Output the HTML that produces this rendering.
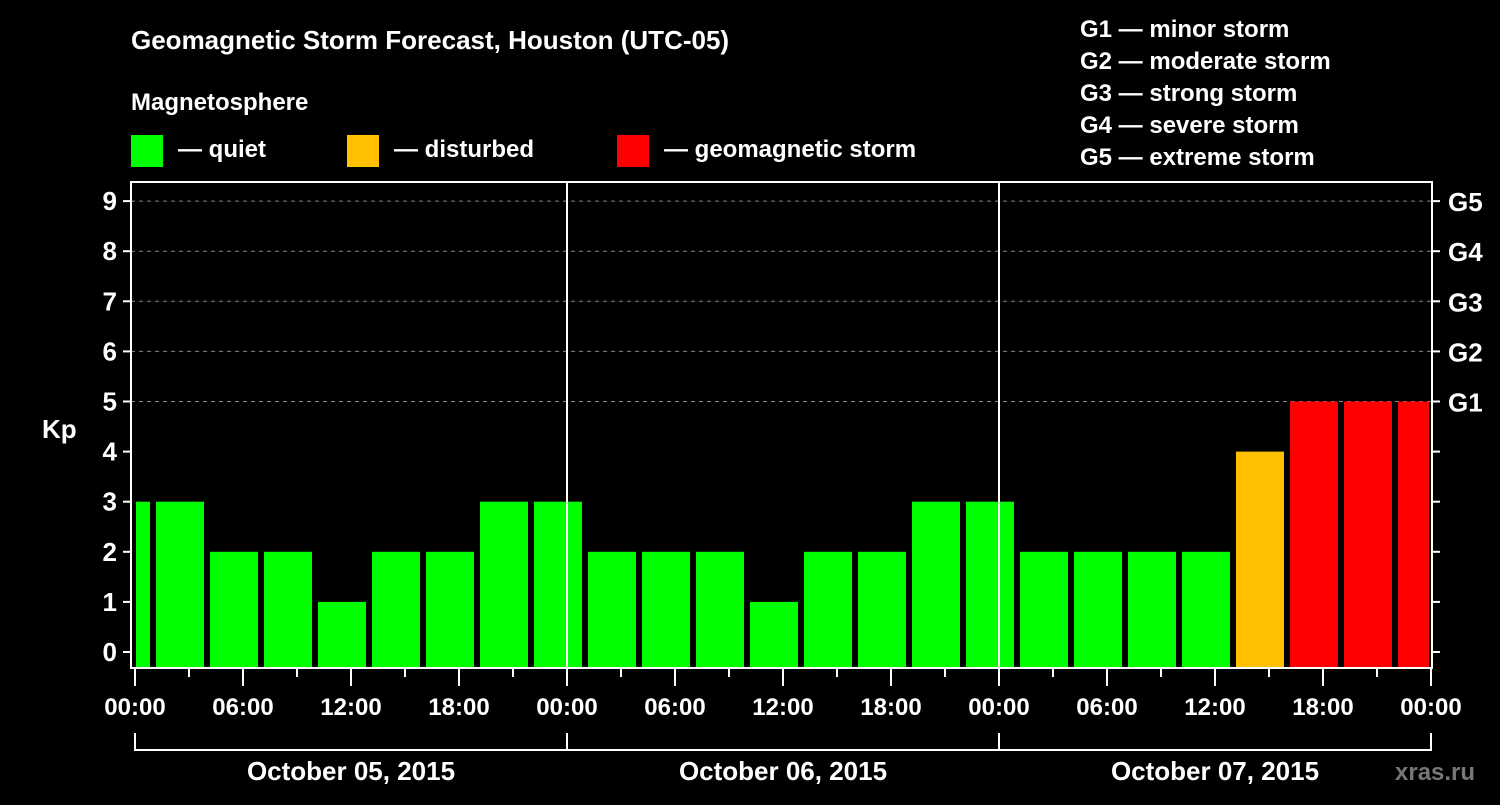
<!DOCTYPE html>
<html><head><meta charset="utf-8"><style>
body{margin:0;background:#000;width:1500px;height:800px;overflow:hidden}
svg text{font-family:"Liberation Sans",Arial,sans-serif;font-weight:bold;fill:#fff}
</style></head><body>
<svg id="chart" width="1500" height="800" viewBox="0 0 1500 800" xmlns="http://www.w3.org/2000/svg">
<rect width="1500" height="800" fill="#000"/>
<text x="131" y="49" font-size="26">Geomagnetic Storm Forecast, Houston (UTC-05)</text>
<text x="131" y="110" font-size="24">Magnetosphere</text>
<g>
<rect x="131" y="135" width="32" height="32" fill="#00ff00"/>
<text x="178" y="157" font-size="24">— quiet</text>
<rect x="347" y="135" width="32" height="32" fill="#ffc000"/>
<text x="394" y="157" font-size="24">— disturbed</text>
<rect x="617" y="135" width="32" height="32" fill="#ff0000"/>
<text x="664" y="157" font-size="24">— geomagnetic storm</text>
</g>
<g font-size="24">
<text x="1080" y="37">G1 — minor storm</text>
<text x="1080" y="69">G2 — moderate storm</text>
<text x="1080" y="101">G3 — strong storm</text>
<text x="1080" y="133">G4 — severe storm</text>
<text x="1080" y="165">G5 — extreme storm</text>
</g>
<text x="42" y="438" font-size="26">Kp</text>
<text x="1395" y="780" font-size="24" style="fill:#777">xras.ru</text>
<g id="grid"></g><g id="bars"></g><g id="axes"></g>
</svg>
<script>
const hoursStart = [-2,1,4,7,10,13,16,19,22,25,28,31,34,37,40,43,46,49,52,55,58,61,64,67,70];
const kpValues = [3,3,2,2,1,2,2,3,3,2,2,2,1,2,2,3,3,2,2,2,2,4,5,5,5];
const yTicks = [0,1,2,3,4,5,6,7,8,9];
const gLabels = ["G1","G2","G3","G4","G5"];
const xTickLabels = ["00:00","06:00","12:00","18:00","00:00","06:00","12:00","18:00","00:00","06:00","12:00","18:00","00:00"];
const dayLabels = ["October 05, 2015","October 06, 2015","October 07, 2015"];
const NS="http://www.w3.org/2000/svg";
const X0=135,PXH=18,Y0=652,PXK=50.1,LEFT=131,RIGHT=1432,TOP=182,BOT=668;
const xs=h=>X0+h*PXH, ys=v=>Y0-v*PXK;
function mk(tag,attrs,parent){const e=document.createElementNS(NS,tag);for(const k in attrs)e.setAttribute(k,attrs[k]);parent.appendChild(e);return e;}
const grid=document.getElementById('grid'),bars=document.getElementById('bars'),axes=document.getElementById('axes');
// gridlines
[5,6,7,8,9].forEach(v=>{const l=mk('line',{x1:LEFT,x2:RIGHT,y1:ys(v),y2:ys(v),stroke:'#888','stroke-dasharray':'4,4','stroke-width':1},grid);

});
// bars
hoursStart.forEach((h,i)=>{const v=kpValues[i];
let x1=Math.max(xs(h)+3,X0+1),x2=Math.min(xs(h+3)-3,RIGHT-3);
const col=v>=5?'#ff0000':(v>=4?'#ffc000':'#00ff00');
const r=mk('rect',{x:x1,y:ys(v),width:x2-x1,height:BOT-1-ys(v),fill:col},bars);

});
// day separators
[24,48].forEach(h=>{const l=mk('line',{x1:xs(h),x2:xs(h),y1:TOP,y2:BOT,stroke:'#fff','stroke-width':2},axes);

});
// frame
const fr=mk('rect',{x:LEFT,y:TOP,width:RIGHT-LEFT,height:BOT-TOP,fill:'none',stroke:'#fff','stroke-width':2},axes);


// y ticks
yTicks.forEach(v=>{const y=ys(v);
mk('line',{x1:LEFT-8,x2:LEFT,y1:y,y2:y,stroke:'#fff','stroke-width':2},axes);
mk('line',{x1:RIGHT,x2:RIGHT+8,y1:y,y2:y,stroke:'#fff','stroke-width':2},axes);
const t=mk('text',{x:LEFT-14,y:y+9,'font-size':26,'text-anchor':'end'},axes);t.textContent=v;


if(v>=5){const g=mk('text',{x:1448,y:y+10,'font-size':26},axes);g.textContent=gLabels[v-5];

}});
// x ticks
for(let h=0;h<=72;h+=3){const major=h%6===0;
mk('line',{x1:xs(h),x2:xs(h),y1:BOT,y2:BOT+(major?18:9),stroke:'#fff','stroke-width':2},axes);}
xTickLabels.forEach((s,i)=>{const t=mk('text',{x:xs(i*6),y:715,'font-size':24,'text-anchor':'middle'},axes);t.textContent=s;

});
// day brackets
dayLabels.forEach((s,i)=>{const a=xs(i*24),b=xs((i+1)*24);
mk('path',{d:`M${a} 733V750H${b}`+(i==2?'V733':''),stroke:'#fff','stroke-width':2,fill:'none'},axes);
const t=mk('text',{x:(a+b)/2,y:780,'font-size':26,'text-anchor':'middle'},axes);t.textContent=s;

});
</script>
</body></html>
